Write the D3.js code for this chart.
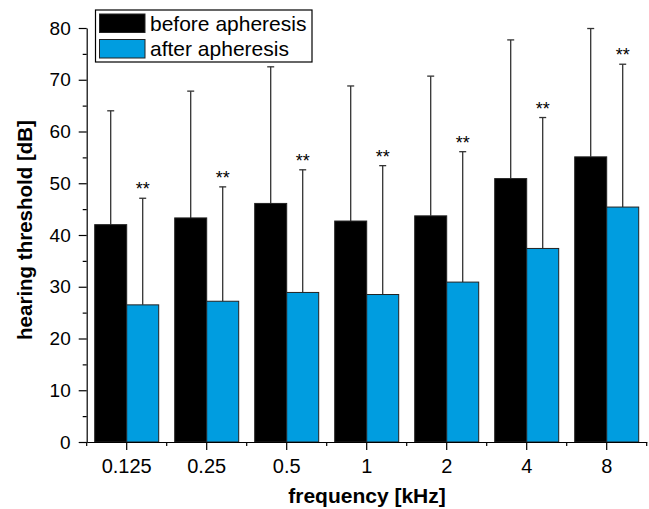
<html>
<script src='https://d3js.org/d3.v7.min.js'></script>
<style>
body {margin:0; background:#fff;}
text {font-family: "Liberation Sans", Arial, sans-serif; fill:#000;}
</style>
<body onload='init()'>
<svg width=649 height=509></svg>
<script>
// hearing threshold per frequency, mean + upper SD bar
const freqs = ["0.125", "0.25", "0.5", "1", "2", "4", "8"];
const series = ["before apheresis", "after apheresis"];
const before = [42.0, 43.3, 46.1, 42.7, 43.7, 50.9, 55.1];
const after = [26.5, 27.2, 28.9, 28.5, 30.9, 37.4, 45.4];
const beforeErr = [64.0, 67.8, 72.5, 68.8, 70.7, 77.7, 79.9];
const afterErr = [47.1, 49.3, 52.6, 53.4, 56.1, 62.7, 73.0];
const signif = ["**", "**", "**", "**", "**", "**", "**"];
const yTicks = [0, 10, 20, 30, 40, 50, 60, 70, 80];

function init() {
  const colors = ["#000000", "#009de0"];
  const x0 = 86.7, x1 = 646.7, yb = 442, yt = 28;

  const x = d3.scaleBand().domain(freqs).range([x0, x1]).paddingInner(0.2).paddingOuter(0.1);
  const xs = d3.scaleBand().domain(series).range([0, x.bandwidth()]);
  const y = d3.scaleLinear().domain([0, 80]).range([yb, yt]);
  const color = d3.scaleOrdinal().domain(series).range(colors);

  const rows = freqs.map((f, i) => ({
    f: f,
    vals: [
      {s: series[0], v: before[i], e: beforeErr[i], star: null},
      {s: series[1], v: after[i], e: afterErr[i], star: signif[i]}
    ]
  }));

  const svg = d3.select("svg");

  const g = svg.selectAll("g.grp").data(rows).enter().append("g")
    .attr("class", "grp")
    .attr("transform", d => "translate(" + x(d.f) + ",0)");

  // error bars first so bars sit on top
  const eb = g.selectAll("g.err").data(d => d.vals).enter().append("g").attr("class", "err");
  eb.append("line")
    .attr("x1", d => xs(d.s) + xs.bandwidth() / 2)
    .attr("x2", d => xs(d.s) + xs.bandwidth() / 2)
    .attr("y1", d => y(d.v))
    .attr("y2", d => y(d.e))
    .attr("stroke", "#333").attr("stroke-width", 1.3);
  eb.append("line")
    .attr("x1", d => xs(d.s) + xs.bandwidth() / 2 - 3.5)
    .attr("x2", d => xs(d.s) + xs.bandwidth() / 2 + 3.5)
    .attr("y1", d => y(d.e))
    .attr("y2", d => y(d.e))
    .attr("stroke", "#333").attr("stroke-width", 1.3);
  eb.filter(d => d.star).append("text")
    .attr("x", d => xs(d.s) + xs.bandwidth() / 2)
    .attr("y", d => y(d.e) - 3)
    .attr("text-anchor", "middle")
    .style("font-size", "18px")
    .text(d => d.star);

  g.selectAll("rect").data(d => d.vals).enter().append("rect")
    .attr("x", d => xs(d.s))
    .attr("y", d => y(d.v))
    .attr("width", xs.bandwidth())
    .attr("height", d => yb - y(d.v))
    .attr("fill", d => color(d.s))
    .attr("stroke", "#222").attr("stroke-width", 1);

  // y axis with minor ticks
  const yAxis = d3.axisLeft(y).tickValues(yTicks).tickSize(8).tickPadding(8).tickSizeOuter(0);
  const ya = svg.append("g").attr("transform", "translate(" + x0 + ",0)").call(yAxis);
  ya.selectAll("text").style("font-size", "19px");
  ya.selectAll(".tick line").attr("stroke-width", 1.2);
  ya.select(".domain").attr("stroke-width", 1.2);
  svg.append("g").attr("transform", "translate(" + x0 + ",0)")
    .call(d3.axisLeft(y).tickValues(d3.range(5, 80, 10)).tickSize(4).tickFormat("").tickSizeOuter(0))
    .call(s => s.select(".domain").remove())
    .selectAll("line").attr("stroke-width", 1.2);

  // x axis: labels at band centres, minor ticks at band edges
  const xa = svg.append("g").attr("transform", "translate(0," + yb + ")")
    .call(d3.axisBottom(x).tickSize(8).tickPadding(9).tickSizeOuter(0));
  xa.selectAll("text").style("font-size", "20px");
  xa.selectAll(".tick line").attr("stroke-width", 1.2);
  xa.select(".domain").attr("stroke-width", 1.2);
  const edges = d3.range(0, freqs.length + 1).map(i => x0 + i * x.step());
  xa.selectAll("line.minor").data(edges).enter().append("line")
    .attr("class", "minor")
    .attr("x1", d => d).attr("x2", d => d)
    .attr("y1", 0).attr("y2", 4)
    .attr("stroke", "#000").attr("stroke-width", 1.2);

  // titles
  svg.append("text")
    .attr("x", 367).attr("y", 503)
    .attr("text-anchor", "middle")
    .style("font-size", "21px").style("font-weight", "bold")
    .text("frequency [kHz]");
  svg.append("text")
    .attr("transform", "translate(32,230) rotate(-90)")
    .attr("text-anchor", "middle")
    .style("font-size", "20.5px").style("font-weight", "bold")
    .text("hearing threshold [dB]");

  // legend
  const lg = svg.append("g");
  lg.append("rect").attr("x", 95.5).attr("y", 10).attr("width", 216.5).attr("height", 52)
    .attr("fill", "#fff").attr("stroke", "#000").attr("stroke-width", 1.2);
  const li = lg.selectAll("g.li").data(series).enter().append("g").attr("class", "li")
    .attr("transform", (d, i) => "translate(0," + (i * 25.5) + ")");
  li.append("rect").attr("x", 99.5).attr("y", 14).attr("width", 45.5).attr("height", 18.5)
    .attr("fill", d => color(d)).attr("stroke", "#222").attr("stroke-width", 1);
  li.append("text").attr("x", 150).attr("y", 30.5)
    .style("font-size", "21px")
    .text(d => d);
}
</script>
</body>
</html>
